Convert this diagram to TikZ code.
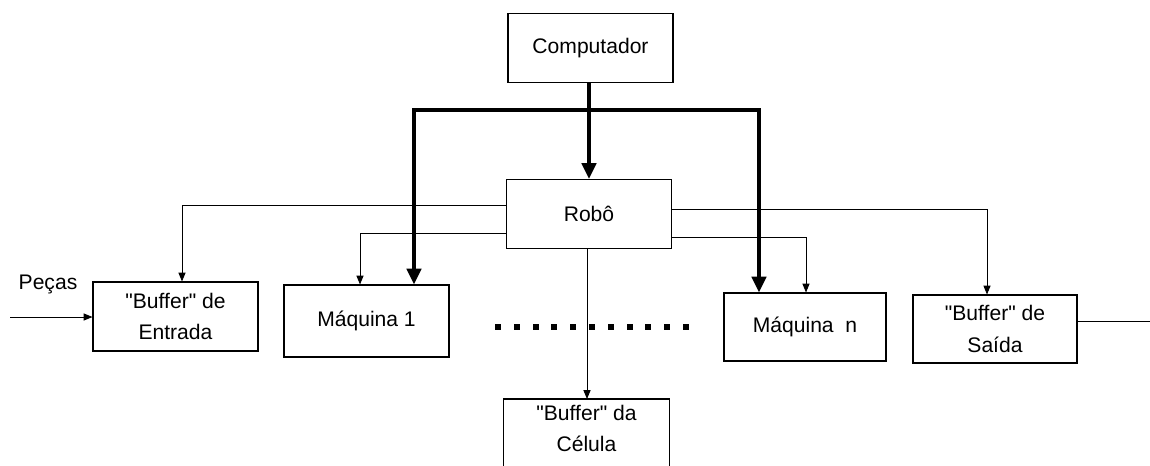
\documentclass[tikz,border=0pt]{standalone}
\usepackage{fontspec}
\setmainfont{Liberation Sans}
\usetikzlibrary{arrows.meta,calc}

\begin{document}
\begin{tikzpicture}[x=0.02cm, y=-0.02cm, font=\fontsize{12}{18}\selectfont,
  box/.style={draw, line width=0.6pt, minimum width=3.3cm, minimum height=1.38cm, align=center, inner sep=0pt},
  wire/.style={line width=0.5pt, -{Triangle[length=5pt, width=4pt]}},
  bus/.style={line width=2.3pt, line join=miter, {Triangle[length=9pt, width=8pt]}-{Triangle[length=9pt, width=8pt]}},
  feed/.style={line width=2.3pt, -{Triangle[length=9pt, width=8pt]}}]

\useasboundingbox (0,0) rectangle (1150,466);
\clip (0,0) rectangle (1150,466);

% Boxes
\node[box] (comp) at (590.5,48) {Computador};
\node[box] (robo) at (589,214) {Robô};
\node[box, minimum height=1.38cm] (bufin) at (175.5,316.5) {\textquotedbl Buffer\textquotedbl{} de\\Entrada};
\node[box, minimum height=1.44cm] (maq1) at (366.5,321) {Máquina 1};
\node[box, minimum width=3.24cm, minimum height=1.36cm] (maqn) at (805,327) {Máquina~ n};
\node[box, minimum width=3.28cm, minimum height=1.36cm] (bufout) at (995,329) {\textquotedbl Buffer\textquotedbl{} de\\Saída};
\node[box, draw=none, minimum height=0.5cm, inner ysep=3pt, anchor=north] (bufcel) at (586.5,399) {\textquotedbl Buffer\textquotedbl{} da\\Célula};
\draw[line width=0.6pt] (bufcel.north west) ++(0,100) -- (bufcel.north west) -- (bufcel.north east) -- ++(0,100);
\node (pecas) at (48,284) {Peças};

% Computador -> Robo and the bus to the machines
\draw[feed] (comp.south -| robo.north) -- (robo.north);
\coordinate (busL) at (414,110);
\coordinate (busR) at (759,110);
\draw[bus] (busL |- maq1.north) |- (busR) -- (busR |- maqn.north);

% Robo -> buffers and machines
\draw[wire] ([yshift=0.18cm]robo.west) -| ([xshift=0.13cm]bufin.north);
\draw[wire] ([yshift=-0.38cm]robo.west) -| ([xshift=-0.13cm]maq1.north);
\draw[wire] ([yshift=0.1cm]robo.east) -| ([xshift=-0.16cm]bufout.north);
\draw[wire] ([yshift=-0.46cm]robo.east) -| ([xshift=0.02cm]maqn.north);
\draw[wire] ([xshift=-0.04cm]robo.south) -- ([xshift=-0.04cm]robo.south |- bufcel.north);

% Parts in and out
\coordinate (in) at (10,317);
\coordinate (out) at (1150,321);
\draw[wire] (in) -- (in -| bufin.west);
\draw[line width=0.5pt] (bufout.east |- out) -- (out);

% Other machines
\foreach \i in {0,...,10}
  \fill (498+18.8*\i-3, 324) rectangle ++(6,6);

\end{tikzpicture}
\end{document}
